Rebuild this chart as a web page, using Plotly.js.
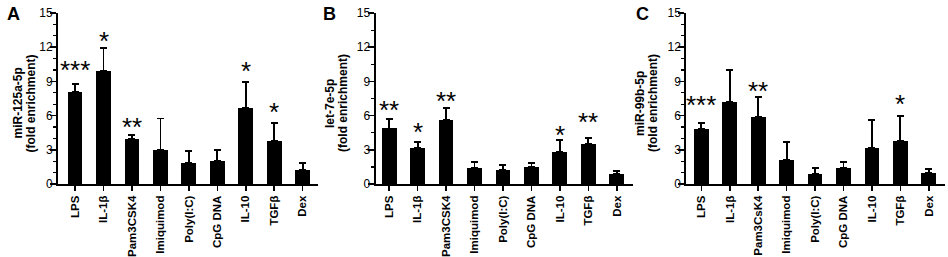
<!DOCTYPE html>
<html>
<head>
<meta charset="utf-8">
<script src="https://cdn.plot.ly/plotly-3.0.1.min.js"></script>
<style>html,body{margin:0;padding:0;background:#fff;}#chart{width:948px;height:257px;}</style>
</head>
<body>
<div id="chart"></div>
<script>
// ---- data ----
var categoriesAB = ["LPS", "IL-1β", "Pam3CSK4", "Imiquimod", "Poly(I:C)", "CpG DNA", "IL-10", "TGFβ", "Dex"];
var categoriesC  = ["LPS", "IL-1β", "Pam3CsK4", "Imiquimod", "Poly(I:C)", "CpG DNA", "IL-10", "TGFβ", "Dex"];

var valuesA = [8.1, 9.95, 3.95, 3.0, 1.82, 2.05, 6.7, 3.75, 1.23];
var errorsA = [0.67, 1.97, 0.35, 2.75, 1.08, 0.94, 2.23, 1.58, 0.59];
var valuesB = [4.87, 3.13, 5.58, 1.43, 1.23, 1.52, 2.81, 3.48, 0.88];
var errorsB = [0.85, 0.52, 1.09, 0.53, 0.44, 0.29, 1.05, 0.58, 0.26];
var valuesC = [4.8, 7.19, 5.91, 2.1, 0.88, 1.37, 3.19, 3.74, 0.99];
var errorsC = [0.58, 2.78, 1.75, 1.55, 0.49, 0.56, 2.42, 2.22, 0.36];

var starsA = ["***", "*", "**", "", "", "", "*", "*", ""];
var starLevelsA = [10.6, 13.2, 5.6, null, null, null, 10.5, 6.9, null];
var starsB = ["**", "*", "**", "", "", "", "*", "**", ""];
var starLevelsB = [7.13, 5.18, 7.9, null, null, null, 4.94, 6.05, null];
var starsC = ["***", "", "**", "", "", "", "", "*", ""];
var starLevelsC = [7.52, null, 8.77, null, null, null, null, 7.66, null];

var yTitleNames = ["miR-125a-5p", "let-7e-5p", "miR-99b-5p"];
var yTitleUnit = "(fold enrichment)";
var panelLetters = ["A", "B", "C"];
var yTickVals = [0, 3, 6, 9, 12, 15];

// ---- styling / layout ----
var FONT = "Arial, 'Liberation Sans', sans-serif";
var W = 948, H = 257;
var panels = [
  {cats: categoriesAB, vals: valuesA, errs: errorsA, stars: starsA, lv: starLevelsA, xd: [58, 318.3], xr: [-0.6, 8.55], minor: 1, letterX: 5, titleX: 23.5},
  {cats: categoriesAB, vals: valuesB, errs: errorsB, stars: starsB, lv: starLevelsB, xd: [375.5, 633], xr: [-0.48, 8.57], minor: 1.5, letterX: 321, titleX: 336},
  {cats: categoriesC,  vals: valuesC, errs: errorsC, stars: starsC, lv: starLevelsC, xd: [686.3, 944.7], xr: [-0.53, 8.56], minor: 1, letterX: 634, titleX: 646}
];
var yDom = [(H - 184) / H, (H - 13) / H];
var titleCenterY = 1 - 103.5 / H;

var data = [];
var layout = {
  width: W, height: H,
  margin: {l: 0, r: 0, t: 0, b: 0},
  paper_bgcolor: "#fff", plot_bgcolor: "rgba(0,0,0,0)",
  showlegend: false,
  bargap: 0,
  font: {family: FONT, color: "#000", size: 12},
  annotations: []
};

panels.forEach(function (p, i) {
  var n = i === 0 ? "" : String(i + 1);
  var xa = "x" + n, ya = "y" + n;
  data.push({
    type: "bar",
    x: p.cats, y: p.vals,
    xaxis: xa, yaxis: ya,
    width: 0.52,
    marker: {color: "#000", line: {width: 0}},
    error_y: {type: "data", array: p.errs, arrayminus: p.errs.map(function () { return 0; }), symmetric: false,
              color: "#000", thickness: 1.8, width: 3.5},
    hoverinfo: "skip"
  });
  layout["xaxis" + n] = {
    domain: [p.xd[0] / W, p.xd[1] / W],
    anchor: ya, type: "category",
    range: p.xr,
    showline: true, linewidth: 2, linecolor: "#000",
    ticks: "outside", ticklen: 5, tickwidth: 1.5, tickcolor: "#000",
    tickangle: -90,
    tickfont: {family: FONT, size: 11.5, color: "#000", weight: "bold"},
    showgrid: false, zeroline: false, fixedrange: true
  };
  layout["yaxis" + n] = {
    domain: yDom, anchor: xa,
    range: [0, 15],
    tickvals: yTickVals,
    showline: true, linewidth: 2, linecolor: "#000",
    ticks: "outside", ticklen: 6, tickwidth: 1.5, tickcolor: "#000",
    ticklabelstandoff: -5,
    minor: {dtick: p.minor, tick0: 0, ticks: "outside", ticklen: 3, tickwidth: 1.2, tickcolor: "#000", showgrid: false},
    tickfont: {family: FONT, size: 12, color: "#000"},
    showgrid: false, zeroline: false, fixedrange: true
  };
  // y-axis title (two rotated lines)
  [yTitleNames[i], yTitleUnit].forEach(function (t, j) {
    layout.annotations.push({
      xref: "paper", yref: "paper", x: (p.titleX + (j === 0 ? -6.5 : 6.5)) / W, y: titleCenterY,
      xanchor: "center", yanchor: "middle", textangle: -90, showarrow: false,
      text: "<b>" + t + "</b>",
      font: {family: FONT, size: 12, color: "#000"}
    });
  });
  // significance stars
  p.stars.forEach(function (s, k) {
    if (!s) return;
    layout.annotations.push({
      xref: xa, yref: ya, x: p.cats[k], y: p.lv[k],
      text: s, showarrow: false, yanchor: "middle", xanchor: "center", yshift: -7,
      font: {family: FONT, size: 26, color: "#000"}
    });
  });
  // panel letter
  layout.annotations.push({
    xref: "paper", yref: "paper", x: p.letterX / W, y: 1 - 2 / H,
    xanchor: "left", yanchor: "top", showarrow: false,
    text: "<b>" + panelLetters[i] + "</b>",
    font: {family: FONT, size: 18, color: "#000"}
  });
});

Plotly.newPlot("chart", data, layout, {displayModeBar: false, staticPlot: true});
</script>
</body>
</html>
